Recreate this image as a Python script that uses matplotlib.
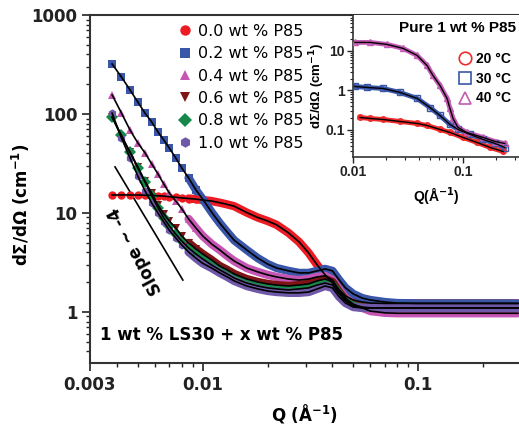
import numpy as np
import matplotlib
matplotlib.use("Agg")
import matplotlib.pyplot as plt
from matplotlib.ticker import FixedLocator, FixedFormatter, NullFormatter, LogLocator

# ---- main panel data: Q (1/A) and dSigma/dOmega (1/cm) ----
q_main = [0.0038, 0.0042, 0.0046, 0.0050, 0.0054, 0.0058, 0.0062, 0.0066, 0.0070,
          0.0075, 0.0080, 0.0086, 0.0093, 0.010, 0.011, 0.012, 0.013, 0.014, 0.016,
          0.018, 0.020, 0.022, 0.025, 0.028, 0.031, 0.034, 0.037, 0.040, 0.043,
          0.046, 0.050, 0.055, 0.060, 0.07, 0.08, 0.10, 0.13, 0.16, 0.20, 0.25, 0.29]

p85_00 = [15.2, 15.2, 15.2, 15.2, 15.1, 15.1, 14.9, 14.8, 14.6, 14.4, 14.2, 14.0, 13.8,
          13.5, 13.2, 12.7, 12.2, 11.7, 10.1, 9.0, 8.3, 7.6, 6.3, 5.1, 3.95, 2.98, 2.37,
          1.96, 1.67, 1.45, 1.32, 1.26, 1.23, 1.22, 1.22, 1.22, 1.22, 1.22, 1.22, 1.22, 1.22]
p85_02 = [320, 236, 175, 132, 102, 83, 65.8, 54.6, 45.3, 35.9, 28.5, 22.6, 17.1, 13.8,
          10.2, 7.9, 6.4, 5.3, 4.23, 3.5, 3.05, 2.78, 2.6, 2.48, 2.48, 2.6, 2.72, 2.6,
          2.1, 1.75, 1.52, 1.38, 1.32, 1.26, 1.23, 1.22, 1.22, 1.22, 1.22, 1.22, 1.22]
p85_04 = [156, 102, 68.9, 51, 40.4, 31.3, 24.8, 19.6, 15.9, 13.2, 11.0, 8.7, 7.05, 5.86,
          4.86, 4.23, 3.68, 3.27, 2.78, 2.54, 2.37, 2.26, 2.15, 2.1, 2.15, 2.26, 2.31,
          2.1, 1.67, 1.38, 1.2, 1.1, 1.02, 0.98, 0.97, 0.97, 0.97, 0.97, 0.97, 0.97, 0.97]
p85_06 = [93, 58.6, 41.3, 29.2, 21.0, 15.9, 12.0, 9.8, 8.3, 7.05, 5.86, 4.98, 4.33, 3.85,
          3.35, 2.91, 2.66, 2.42, 2.15, 2.01, 1.92, 1.87, 1.83, 1.87, 1.92, 2.06, 2.15,
          2.01, 1.59, 1.32, 1.18, 1.12, 1.1, 1.1, 1.1, 1.1, 1.1, 1.1, 1.1, 1.1, 1.1]
p85_08 = [93, 61, 41, 28.5, 20.5, 14.9, 11.3, 8.9, 7.4, 6.1, 5.2, 4.43, 3.85, 3.43,
          2.98, 2.66, 2.42, 2.2, 1.96, 1.83, 1.75, 1.71, 1.67, 1.71, 1.75, 1.87, 1.96,
          1.87, 1.52, 1.29, 1.15, 1.1, 1.1, 1.1, 1.1, 1.1, 1.1, 1.1, 1.1, 1.1, 1.1]
p85_10 = [102, 57, 36, 23.6, 16.7, 12.6, 10.0, 8.1, 6.7, 5.6, 4.75, 4.04, 3.5, 3.1,
          2.78, 2.48, 2.26, 2.06, 1.83, 1.71, 1.63, 1.59, 1.56, 1.56, 1.59, 1.71, 1.83,
          1.75, 1.42, 1.23, 1.12, 1.1, 1.1, 1.1, 1.1, 1.1, 1.1, 1.1, 1.1, 1.1, 1.1]

series_labels = ["0.0 wt % P85", "0.2 wt % P85", "0.4 wt % P85",
                 "0.6 wt % P85", "0.8 wt % P85", "1.0 wt % P85"]
series_vals = [p85_00, p85_02, p85_04, p85_06, p85_08, p85_10]
series_colors = ["#ed1c24", "#3a56a8", "#c656b4", "#7f1416", "#16884a", "#6f58a8"]
series_markers = ["o", "s", "^", "v", "D", "h"]

# slope guide line end points
slope_q = [0.00392, 0.00809]
slope_i = [29.2, 2.1]

# ---- inset data: pure 1 wt % P85 at three temperatures ----
q_20 = [0.0116, 0.0143, 0.0188, 0.0267, 0.0382, 0.047, 0.0617, 0.0761, 0.100, 0.134, 0.176, 0.231]
i_20 = [0.207, 0.195, 0.184, 0.164, 0.146, 0.13, 0.103, 0.0865, 0.0646, 0.0483, 0.0361, 0.0286]
q_30 = [0.0104, 0.0134, 0.0188, 0.0267, 0.0382, 0.0501, 0.0617, 0.0761, 0.090, 0.116, 0.152, 0.196, 0.24]
i_30 = [1.26, 1.19, 1.12, 0.89, 0.63, 0.37, 0.233, 0.138, 0.103, 0.077, 0.0575, 0.0455, 0.036]
q_40 = [0.0104, 0.0143, 0.0204, 0.0285, 0.0382, 0.047, 0.0533, 0.0617, 0.0716, 0.0761,
        0.0811, 0.090, 0.108, 0.152, 0.196, 0.24]
i_40 = [16.4, 16.4, 14.6, 11.6, 7.7, 4.3, 2.4, 1.34, 0.63, 0.35, 0.195, 0.116, 0.0865,
        0.0646, 0.051, 0.0455]

plt.rcParams["font.weight"] = "bold"
plt.rcParams["axes.labelweight"] = "bold"
plt.rcParams["mathtext.default"] = "bf"

fig = plt.figure(figsize=(5.19, 4.29), dpi=100)
ax = fig.add_axes([90 / 519, 1 - 363 / 429, 1 - 90 / 519, 348 / 429])
ax.set_xscale("log")
ax.set_yscale("log")

for vals, lab, col, mk in zip(series_vals, series_labels, series_colors, series_markers):
    q = np.array(q_main)
    I = np.array(vals)
    band = q >= 0.0086
    low = q <= 0.0093
    ax.plot(q[band], I[band], "-", color=col, lw=6, solid_capstyle="round", zorder=2)
    ax.plot(q[low], I[low], mk, color=col, ms=6, mew=0, ls="none", label=lab, zorder=3)

# fitted curves
for vals in series_vals:
    ax.plot(q_main, vals, color="k", lw=1.2, zorder=5)

ax.plot(slope_q, slope_i, color="k", lw=1.2)
ax.text(0.105, 0.322, "Slope ~ -4", transform=ax.transAxes, rotation=118,
        ha="center", va="center", fontsize=12)
ax.text(0.023, 0.08, "1 wt % LS30 + x wt % P85", transform=ax.transAxes,
        ha="left", va="center", fontsize=12)

ax.set_xlim(0.003, 0.2935)
ax.set_ylim(0.305, 1000)
ax.xaxis.set_major_locator(FixedLocator([0.003, 0.01, 0.1]))
ax.xaxis.set_major_formatter(FixedFormatter(["0.003", "0.01", "0.1"]))
ax.xaxis.set_minor_locator(FixedLocator([0.004, 0.005, 0.006, 0.007, 0.008, 0.009,
                                         0.02, 0.03, 0.04, 0.05, 0.06, 0.07, 0.08, 0.09, 0.2]))
ax.xaxis.set_minor_formatter(NullFormatter())
ax.yaxis.set_major_locator(FixedLocator([1, 10, 100, 1000]))
ax.yaxis.set_major_formatter(FixedFormatter(["1", "10", "100", "1000"]))
ax.yaxis.set_minor_locator(LogLocator(base=10, subs=np.arange(2, 10)))
ax.yaxis.set_minor_formatter(NullFormatter())
ax.tick_params(which="major", direction="out", length=6, width=1.2, labelsize=12,
               colors="#222222", pad=3)
ax.tick_params(which="minor", direction="out", length=3, width=1.0, colors="#222222")
for s in ["left", "bottom", "top"]:
    ax.spines[s].set_linewidth(1.5)
    ax.spines[s].set_color("#333333")
ax.spines["right"].set_visible(False)

ax.set_xlabel(r"Q (Å$^{-1}$)", fontsize=12, labelpad=6)
ax.set_ylabel(r"dΣ/dΩ (cm$^{-1}$)", fontsize=12)
ax.yaxis.set_label_coords(-0.135, 0.455)

ax.legend(loc="upper left", bbox_to_anchor=(0.203, 0.974), frameon=False,
          prop={"weight": "normal", "size": 11.5}, handlelength=1.0,
          handletextpad=0.3, labelspacing=0.46, borderpad=0, borderaxespad=0,
          markerscale=1.25)

# ---- inset ----
axin = fig.add_axes([353 / 519, 1 - 157 / 429, 1 - 353 / 519, 142 / 429])
axin.set_xscale("log")
axin.set_yscale("log")
axin.set_facecolor("white")

inset_sets = [(q_20, i_20, "#ee2a2a", "o", "20 °C"),
              (q_30, i_30, "#3a56a8", "s", "30 °C"),
              (q_40, i_40, "#c45bb4", "^", "40 °C")]
for qq, ii, col, mk, lab in inset_sets:
    axin.plot(qq, ii, "-", color=col, lw=3.5, zorder=2)
    axin.plot(qq, ii, mk, color=col, mfc="none", ms=4, mew=1, ls="none", zorder=3)
    axin.plot([], [], mk, color=col, mfc="none", ms=9, mew=1.2, ls="none", label=lab)
for qq, ii, col, mk, lab in inset_sets:
    axin.plot(qq, ii, color="k", lw=1.0, zorder=5)

axin.set_xlim(0.01, 0.323)
axin.set_ylim(0.0207, 81)
axin.xaxis.set_major_locator(FixedLocator([0.01, 0.1]))
axin.xaxis.set_major_formatter(FixedFormatter(["0.01", "0.1"]))
axin.xaxis.set_minor_locator(FixedLocator([0.02, 0.03, 0.04, 0.05, 0.06, 0.07, 0.08,
                                           0.09, 0.2, 0.3]))
axin.xaxis.set_minor_formatter(NullFormatter())
axin.yaxis.set_major_locator(FixedLocator([0.1, 1, 10]))
axin.yaxis.set_major_formatter(FixedFormatter(["0.1", "1", "10"]))
axin.yaxis.set_minor_locator(LogLocator(base=10, subs=np.arange(2, 10)))
axin.yaxis.set_minor_formatter(NullFormatter())
axin.tick_params(which="major", direction="out", length=4, width=1.0, labelsize=10,
                 labelfontfamily="Liberation Sans", colors="#222222", pad=2)
axin.tick_params(which="minor", direction="out", length=2, width=0.8, colors="#222222")
axin.spines["top"].set_visible(False)
axin.spines["right"].set_visible(False)
for s in ["left", "bottom"]:
    axin.spines[s].set_linewidth(1.2)
    axin.spines[s].set_color("#333333")

axin.set_xlabel(r"Q(Å$^{-1}$)", fontsize=10, family="Liberation Sans", labelpad=4)
axin.set_ylabel(r"dΣ/dΩ (cm$^{-1}$)", fontsize=9.5, family="Liberation Sans")
axin.yaxis.set_label_coords(-0.157, 0.5)
axin.text(0.98, 0.908, "Pure 1 wt % P85", transform=axin.transAxes, ha="right",
          va="center", fontsize=11, family="Liberation Sans")
axin.legend(loc="upper left", bbox_to_anchor=(0.63, 0.739), frameon=False,
            prop={"family": "Liberation Sans", "weight": "bold", "size": 10},
            handlelength=1.0, handletextpad=0.3, labelspacing=0.41, borderpad=0,
            borderaxespad=0)

fig.savefig("out.png", dpi=100)
